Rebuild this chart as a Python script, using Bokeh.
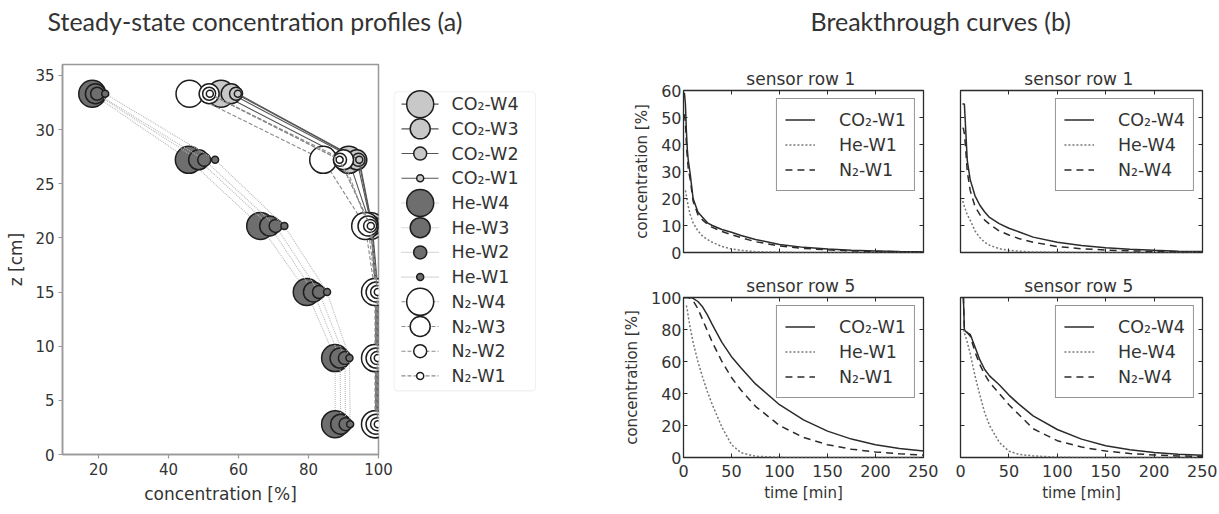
import numpy as np
from bokeh.plotting import figure
from bokeh.models import (Range1d, LinearAxis, FixedTicker, Legend, LegendItem, Label,
                          BoxAnnotation, CustomJSTickFormatter)
from bokeh.layouts import row, column
from bokeh.embed import file_html
from bokeh.resources import INLINE
from bokeh.core.properties import value

nan = float("nan")

# ---------------- Panel (a): steady-state concentration profiles ----------------
z_cm = [33.3, 27.2, 21.1, 15.0, 8.9, 2.8]
co2_w4 = [55.0, 91.5, 97.8, 99.2, 99.2, 99.2]
co2_w3 = [57.9, 93.8, 98.0, 99.5, 99.5, 99.5]
co2_w2 = [59.3, 94.3, 98.1, 99.7, 99.7, 99.7]
co2_w1 = [59.8, 94.5, 98.2, 99.9, 99.9, 99.9]
he_w4 = [18.2, 45.8, 66.2, 79.5, 87.6, 87.6]
he_w3 = [19.1, 48.6, 68.9, 81.4, 89.0, 89.2]
he_w2 = [19.6, 50.2, 70.6, 83.0, 90.4, 90.6]
he_w1 = [21.9, 53.3, 73.1, 85.3, 91.7, 91.9]
n2_w4 = [46.0, 84.2, 96.2, 99.0, 99.0, 99.0]
n2_w3 = [51.6, 90.0, 97.0, 99.3, 99.3, 99.3]
n2_w2 = [51.6, 89.0, 97.6, 99.6, 99.6, 99.6]
n2_w1 = [51.8, 88.9, 97.8, 99.8, 99.8, 99.8]

profile_names = ["CO₂-W4", "CO₂-W3", "CO₂-W2", "CO₂-W1",
                 "He-W4", "He-W3", "He-W2", "He-W1",
                 "N₂-W4", "N₂-W3", "N₂-W2", "N₂-W1"]
profile_values = [co2_w4, co2_w3, co2_w2, co2_w1,
                  he_w4, he_w3, he_w2, he_w1,
                  n2_w4, n2_w3, n2_w2, n2_w1]
profile_x_ticks = [20, 40, 60, 80, 100]
profile_z_ticks = [0, 5, 10, 15, 20, 25, 30, 35]

# ---------------- Panel (b): breakthrough curves ----------------
t_min = [0, 1, 2, 3, 4, 5, 7, 10, 15, 20, 25, 30, 40, 50, 60, 75, 100, 125, 150, 175, 200, 225, 250]

co2_r1_w1 = [59, 59, 55, 45, 38, 34, 29, 20, 15, 13, 11, 10, 8.5, 7.5, 6.3, 4.8, 3, 1.9, 1.3, 0.8, 0.6, 0.4, 0.3]
he_r1_w1 = [nan, nan, 23, 21, 19, 17, 14, 11, 8, 6, 4.8, 3.8, 2.2, 1.3, 0.8, 0.3, 0.1, 0, 0, 0, 0, 0, 0]
n2_r1_w1 = [51, 51, 48, 40, 35, 31, 27, 19, 14, 12, 10.5, 9.3, 7.8, 6.6, 5.5, 4, 2.4, 1.5, 1, 0.6, 0.4, 0.3, 0.2]

co2_r1_w4 = [nan, nan, 55, 55, 55, 48, 34, 27, 21, 17.5, 15, 13, 10.7, 9, 7.7, 5.7, 3.8, 2.6, 1.8, 1.2, 0.8, 0.5, 0.4]
he_r1_w4 = [nan, nan, 19, 18.5, 17, 16, 14, 12, 8, 5.5, 3.8, 2.7, 1.4, 0.8, 0.5, 0.2, 0.1, 0, 0, 0, 0, 0, 0]
n2_r1_w4 = [nan, nan, 46, 46, 44, 40, 30, 23, 17, 14, 12, 10.5, 8, 6.5, 5.2, 3.8, 2.2, 1.4, 0.9, 0.6, 0.4, 0.3, 0.2]

co2_r5_w1 = [100, 100, 100, 100, 100, 100, 100, 99.5, 97.5, 94, 89, 83, 72, 63, 56, 46, 33, 23.5, 16.5, 11.5, 8, 5.6, 4]
he_r5_w1 = [nan, nan, nan, 95, 92, 88, 81, 72, 60, 50, 41, 33, 19, 8, 3, 0.8, 0.1, 0, 0, 0, 0, 0, 0]
n2_r5_w1 = [100, 100, 100, 100, 100, 100, 99.5, 98, 93, 86, 79, 72, 60, 50, 42, 32, 20, 12.5, 8, 5.2, 3.5, 2.3, 1.5]

co2_r5_w4 = [nan, nan, 100, 100, 80, 79, 78, 77, 69, 61, 55, 51, 45.5, 39, 33.5, 26, 17.5, 11.5, 7.3, 4.8, 3.2, 2.1, 1.4]
he_r5_w4 = [nan, nan, nan, 80, 78, 76, 72, 65, 51, 39, 28, 20, 9.5, 4, 2, 1, 0.2, 0, 0, 0, 0, 0, 0]
n2_r5_w4 = [nan, nan, 100, 100, 80, 79, 78, 76, 66, 58, 52, 47, 40, 33, 27, 18, 10.5, 6.5, 4, 2.5, 1.6, 1, 0.7]

time_ticks = [0, 50, 100, 150, 200, 250]
row1_ticks = [0, 10, 20, 30, 40, 50, 60]
row5_ticks = [0, 20, 40, 60, 80, 100]

TXT = "#333333"
FONT = "DejaVu Sans"

# ---------------- header ----------------
HEADER_W, HEADER_H = 1217, 40
header = figure(width=HEADER_W, height=HEADER_H, x_range=Range1d(0, HEADER_W),
                y_range=Range1d(HEADER_H, 0), output_backend="svg", toolbar_location=None,
                min_border=0, x_axis_location=None, y_axis_location=None)
header.grid.visible = False
header.outline_line_color = None
header.add_layout(Label(x=47, y=20, text="Steady-state concentration profiles  (a)",
                        text_font="Lato", text_font_size="25px", text_color=TXT,
                        text_baseline="alphabetic"))
header.add_layout(Label(x=810, y=20, text="Breakthrough curves  (b)",
                        text_font="Lato", text_font_size="25px", text_color=TXT,
                        text_baseline="alphabetic"))

# ---------------- panel (a) ----------------
gas_fill = {"CO2": "#c8c8c8", "He": "#6e6e6e", "N2": "#ffffff"}
gas_line = {"CO2": "#555555", "He": "#b8b8b8", "N2": "#8a8a8a"}
gas_dash = {"CO2": "solid", "He": "1 1", "N2": "4 2"}
gas_of = ["CO2"] * 4 + ["He"] * 4 + ["N2"] * 4
w_size = [27, 20, 13, 7] * 3

pa = figure(width=393, height=472, x_range=Range1d(9.7, 100), y_range=Range1d(0, 36),
            output_backend="svg", toolbar_location=None,
            min_border_left=62, min_border_right=15, min_border_top=24, min_border_bottom=58,
            x_axis_label="concentration [%]", y_axis_label="z [cm]")
pa.grid.visible = False
pa.outline_line_color = "#999999"
pa.outline_line_width = 1.5
pa.xaxis.ticker = FixedTicker(ticks=profile_x_ticks)
pa.yaxis.ticker = FixedTicker(ticks=profile_z_ticks)
for ax in pa.axis:
    ax.axis_line_color = "#999999"
    ax.axis_line_width = 1.5
    ax.major_tick_line_color = "#999999"
    ax.major_tick_line_width = 1.2
    ax.major_tick_in = 0
    ax.major_tick_out = 4
    ax.minor_tick_line_color = None
    ax.major_label_text_font = FONT
    ax.major_label_text_font_size = "15px"
    ax.major_label_text_color = TXT
    ax.major_label_standoff = 4
    ax.axis_label_text_font = FONT
    ax.axis_label_text_font_size = "17px"
    ax.axis_label_text_font_style = "normal"
    ax.axis_label_text_color = TXT
    ax.axis_label_standoff = 6

for name, vals, gas, sz in zip(profile_names, profile_values, gas_of, w_size):
    pa.line(vals, z_cm, line_color=gas_line[gas], line_width=1.1, line_dash=gas_dash[gas])
    pa.scatter(vals, z_cm, size=sz, fill_color=gas_fill[gas], fill_alpha=1,
               line_color="#1e1e1e", line_width=1.5)

# legend of panel (a): its own small canvas, since marker size differs per item
LEG_W, LEG_H = 199, 472
pleg = figure(width=LEG_W, height=LEG_H, x_range=Range1d(0, LEG_W), y_range=Range1d(LEG_H, 0),
              output_backend="svg", toolbar_location=None, min_border=0,
              x_axis_location=None, y_axis_location=None)
pleg.grid.visible = False
pleg.outline_line_color = None
pleg.add_layout(BoxAnnotation(left=0.5, right=142, top=33, bottom=395, fill_color="white",
                              fill_alpha=1, line_color="#cccccc", line_width=1.2,
                              border_radius=4, level="underlay"))
for i, (name, gas, sz) in enumerate(zip(profile_names, gas_of, w_size)):
    yc = 48 + 29.9 * i
    pleg.segment(x0=[8], y0=[yc], x1=[45], y1=[yc], line_color=gas_line[gas],
                 line_width=1.1, line_dash=gas_dash[gas])
    pleg.scatter([26.7], [yc], size=sz, fill_color=gas_fill[gas], line_color="#1e1e1e",
                 line_width=1.5)
    pleg.text([58], [yc], text=[name], text_baseline="middle", text_align="left",
              text_font=value(FONT), text_font_size="17.5px", text_color=TXT)


# ---------------- panel (b) ----------------
def bt_panel(w, h, mbl, mbr, mbt, mbb, ymax, yticks, show_x, show_y, title, curves):
    p = figure(width=w, height=h, x_range=Range1d(0, 250), y_range=Range1d(0, ymax),
               output_backend="svg", toolbar_location=None,
               min_border_left=mbl, min_border_right=mbr, min_border_top=mbt,
               min_border_bottom=mbb)
    p.grid.visible = False
    p.outline_line_color = "#2b2b2b"
    p.outline_line_width = 1.3
    p.add_layout(LinearAxis(), "right")
    p.add_layout(LinearAxis(), "above")
    p.title.text = title
    p.title.align = "center"
    p.title.text_font = FONT
    p.title.text_font_size = "17px"
    p.title.text_font_style = "normal"
    p.title.text_color = TXT
    p.title.standoff = 3
    shown = []
    if show_x:
        shown.append(p.below[0])
    if show_y:
        shown.append(p.left[0])
    for ax in p.xaxis:
        ax.ticker = FixedTicker(ticks=time_ticks)
    for ax in p.yaxis:
        ax.ticker = FixedTicker(ticks=yticks)
    for ax in p.axis:
        ax.axis_line_color = None
        ax.major_tick_line_color = "#2b2b2b"
        ax.major_tick_line_width = 1
        ax.major_tick_in = 4
        ax.major_tick_out = 0
        ax.minor_tick_line_color = None
        ax.major_label_text_font = FONT
        ax.major_label_text_color = TXT
        ax.axis_label_text_font = FONT
        ax.axis_label_text_font_size = "15px"
        ax.axis_label_text_font_style = "normal"
        ax.axis_label_text_color = TXT
        if ax in shown:
            ax.major_label_text_font_size = "16px"
        else:
            ax.major_label_text_font_size = "0px"
            ax.major_label_standoff = 0
            ax.formatter = CustomJSTickFormatter(code="return ''")
    if show_x:
        p.below[0].axis_label = "time [min]"
        p.below[0].major_label_standoff = 7
        p.below[0].axis_label_standoff = 4
    if show_y:
        p.left[0].axis_label = "concentration [%]"
        p.left[0].major_label_standoff = 2
        p.left[0].axis_label_standoff = 7
    styles = [("#2b2b2b", "solid"), ("#777777", "2 2"), ("#2b2b2b", "7 5")]
    items = []
    for (label, ys), (col, dash) in zip(curves, styles):
        r = p.line(t_min, np.array(ys, dtype=float), line_color=col, line_width=1.5,
                   line_dash=dash)
        items.append(LegendItem(label=label, renderers=[r]))
    leg = Legend(items=items, location="top_right", margin=8, padding=8, spacing=0,
                 glyph_width=30, glyph_height=25, label_height=25, label_standoff=24,
                 label_text_font=FONT, label_text_font_size="17.5px", label_text_color=TXT,
                 border_line_color="#2b2b2b", border_line_width=1.2,
                 background_fill_color="white", background_fill_alpha=1)
    p.add_layout(leg)
    return p


tl = bt_panel(346, 222, 91, 15, 50, 10, 60, row1_ticks, False, True, "sensor row  1",
              [("CO₂-W1", co2_r1_w1), ("He-W1", he_r1_w1), ("N₂-W1", n2_r1_w1)])
tr = bt_panel(279, 222, 22, 15, 50, 10, 60, row1_ticks, False, False, "sensor row  1",
              [("CO₂-W4", co2_r1_w4), ("He-W4", he_r1_w4), ("N₂-W4", n2_r1_w4)])
bl = bt_panel(346, 250, 91, 15, 35, 55, 100, row5_ticks, True, True, "sensor row  5",
              [("CO₂-W1", co2_r5_w1), ("He-W1", he_r5_w1), ("N₂-W1", n2_r5_w1)])
br = bt_panel(279, 250, 22, 15, 35, 55, 100, row5_ticks, True, False, "sensor row  5",
              [("CO₂-W4", co2_r5_w4), ("He-W4", he_r5_w4), ("N₂-W4", n2_r5_w4)])

layout = column(header, row(pa, pleg, column(row(tl, tr), row(bl, br))))

open("out.html", "w").write(file_html(layout, INLINE))
